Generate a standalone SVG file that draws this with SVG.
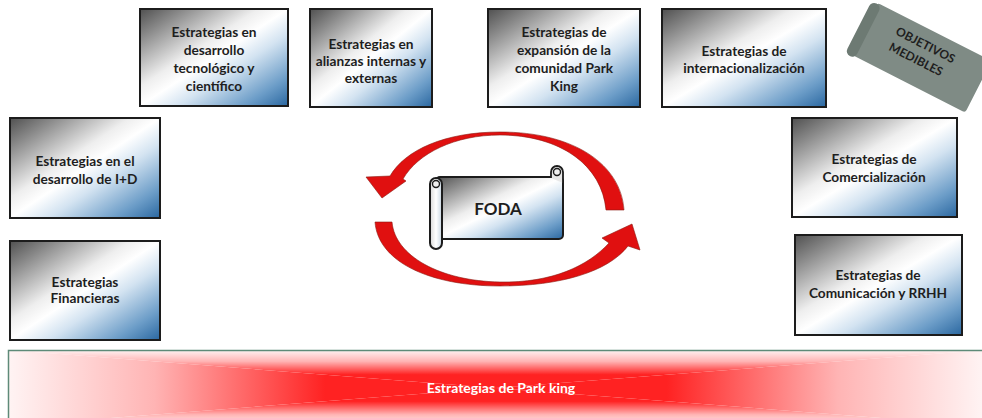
<svg xmlns="http://www.w3.org/2000/svg" width="982" height="418" viewBox="0 0 982 418">
<defs>
<linearGradient id="boxg" x1="0" y1="0" x2="1" y2="1">
<stop offset="0" stop-color="#505050"/>
<stop offset="0.15" stop-color="#8a8a8a"/>
<stop offset="0.4" stop-color="#eeeeee"/>
<stop offset="0.5" stop-color="#ffffff"/>
<stop offset="0.63" stop-color="#d3e3f1"/>
<stop offset="0.85" stop-color="#6c9dc8"/>
<stop offset="1" stop-color="#2a67a0"/>
</linearGradient>
<linearGradient id="rollg" x1="0" y1="0" x2="1" y2="0">
<stop offset="0" stop-color="#d8d8d8"/>
<stop offset="0.5" stop-color="#ffffff"/>
<stop offset="1" stop-color="#c8d6e2"/>
</linearGradient>
<linearGradient id="bt" gradientUnits="userSpaceOnUse" x1="0" y1="350" x2="0" y2="388">
<stop offset="0" stop-color="#fff4f4"/>
<stop offset="0.3" stop-color="#ffb4b4"/>
<stop offset="0.65" stop-color="#ff2222"/>
<stop offset="1" stop-color="#ff2222"/>
</linearGradient>
<linearGradient id="bb" gradientUnits="userSpaceOnUse" x1="0" y1="426" x2="0" y2="388">
<stop offset="0" stop-color="#fff4f4"/>
<stop offset="0.3" stop-color="#ffb4b4"/>
<stop offset="0.65" stop-color="#ff2222"/>
<stop offset="1" stop-color="#ff2222"/>
</linearGradient>
<linearGradient id="bl" gradientUnits="userSpaceOnUse" x1="8" y1="0" x2="496" y2="0">
<stop offset="0" stop-color="#fff4f4"/>
<stop offset="0.3" stop-color="#ffb4b4"/>
<stop offset="0.65" stop-color="#ff2222"/>
<stop offset="1" stop-color="#ff2222"/>
</linearGradient>
<linearGradient id="br" gradientUnits="userSpaceOnUse" x1="984" y1="0" x2="496" y2="0">
<stop offset="0" stop-color="#fff4f4"/>
<stop offset="0.3" stop-color="#ffb4b4"/>
<stop offset="0.65" stop-color="#ff2222"/>
<stop offset="1" stop-color="#ff2222"/>
</linearGradient>
</defs>
<style>
.box{fill:url(#boxg);stroke:#1c1c1c;stroke-width:2}
.t{font-family:Lato,"Liberation Sans",sans-serif;font-weight:bold;font-size:13.7px;fill:#1e1e1e;text-anchor:middle}
.arr{fill:#e01010;stroke:#8a1a10;stroke-width:0.6}
.ob{font-family:Lato,"Liberation Sans",sans-serif;font-weight:bold;font-size:12px;fill:#1e1e1e;text-anchor:middle}
</style>
<rect width="982" height="418" fill="#ffffff"/>

<g id="banner">
<polygon points="8,350 984,350 496,388" fill="url(#bt)"/>
<polygon points="8,426 984,426 496,388" fill="url(#bb)"/>
<polygon points="8,350 8,426 496,388" fill="url(#bl)"/>
<polygon points="984,350 984,426 496,388" fill="url(#br)"/>
<rect x="8.5" y="350.5" width="980" height="80" fill="none" stroke="#5e8a78" stroke-width="1.5"/>
<text x="501" y="393" style="font-family:Lato,'Liberation Sans',sans-serif;font-weight:bold;font-size:14px;fill:#ffffff;text-anchor:middle">Estrategias de Park king</text>
</g>

<g id="connectors">
<path class="arr" d="M 624 210 C 621 165 575 132 500 132 C 445 132 405 150 390 176 L 366 177 L 382 198 L 406 181 L 403 179 C 418 153 455 135 500 135 C 560 135 602 165 606 210 Z"/>
<path class="arr" d="M 375 222 L 392 222 C 395 256 440 281 500 282 C 552 283 588 266 609 243 L 602 238 L 632 224 L 640 250 L 628 246 C 608 272 560 286 500 286 C 430 286 378 262 375 222 Z"/>
</g>

<g id="foda">
<rect x="436" y="177" width="127" height="62" rx="4" fill="url(#boxg)" stroke="#1c1c1c" stroke-width="2"/>
<path d="M 551 178 L 551 172 A 6 6 0 0 1 563 172 L 563 183" fill="#e8e8e8" stroke="#1c1c1c" stroke-width="1.8"/>
<circle cx="557" cy="172" r="3.5" fill="#f0f0f0" stroke="#1c1c1c" stroke-width="1.4"/>
<rect x="430" y="178" width="12" height="71" rx="6" fill="url(#rollg)" stroke="#1c1c1c" stroke-width="2"/>
<circle cx="436" cy="184" r="3.5" fill="#f0f0f0" stroke="#1c1c1c" stroke-width="1.4"/>
<text x="498" y="215" style="font-family:Lato,'Liberation Sans',sans-serif;font-weight:bold;font-size:17px;fill:#1e1e1e;text-anchor:middle">FODA</text>
</g>

<g id="objetivos" transform="translate(916 55) rotate(27)">
<rect x="-58" y="-29" width="128" height="58" rx="3" fill="#7f8b85"/>
<rect x="-64" y="-28" width="11" height="59" rx="5.5" fill="#6d7a73"/>
<text class="ob" x="4" y="-9">OBJETIVOS</text>
<text class="ob" x="2" y="8">MEDIBLES</text>
</g>

<g id="n1">
<rect class="box" x="140" y="9" width="148" height="97"/>
<text class="t" x="214" y="37">Estrategias en</text>
<text class="t" x="214" y="55">desarrollo</text>
<text class="t" x="214" y="73">tecnológico y</text>
<text class="t" x="214" y="91">científico</text>
</g>
<g id="n2">
<rect class="box" x="310" y="9" width="122" height="98"/>
<text class="t" x="371" y="49">Estrategias en</text>
<text class="t" x="371" y="66">alianzas internas y</text>
<text class="t" x="371" y="83">externas</text>
</g>
<g id="n3">
<rect class="box" x="488" y="9" width="152" height="98"/>
<text class="t" x="564" y="37">Estrategias de</text>
<text class="t" x="564" y="55">expansión de la</text>
<text class="t" x="564" y="73">comunidad Park</text>
<text class="t" x="564" y="91">King</text>
</g>
<g id="n4">
<rect class="box" x="662" y="9" width="164" height="98"/>
<text class="t" x="744" y="56">Estrategias de</text>
<text class="t" x="744" y="73">internacionalización</text>
</g>
<g id="n5">
<rect class="box" x="10" y="118" width="150" height="100"/>
<text class="t" x="85" y="166">Estrategias en el</text>
<text class="t" x="85" y="184">desarrollo de I+D</text>
</g>
<g id="n6">
<rect class="box" x="10" y="241" width="150" height="99"/>
<text class="t" x="85" y="287">Estrategias</text>
<text class="t" x="85" y="303">Financieras</text>
</g>
<g id="n7">
<rect class="box" x="792" y="118" width="165" height="99"/>
<text class="t" x="874" y="164">Estrategias de</text>
<text class="t" x="874" y="182">Comercialización</text>
</g>
<g id="n8">
<rect class="box" x="795" y="235" width="167" height="100"/>
<text class="t" x="878" y="280">Estrategias de</text>
<text class="t" x="878" y="298">Comunicación y RRHH</text>
</g>
</svg>
